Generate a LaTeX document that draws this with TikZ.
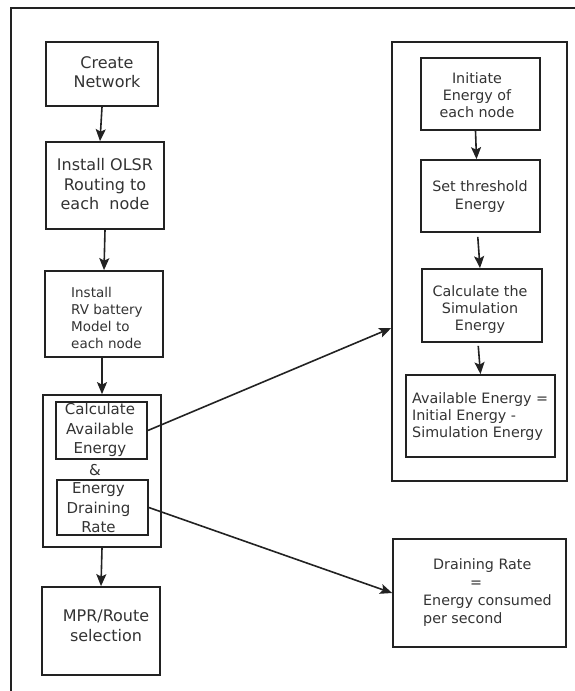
\documentclass[tikz,border=0pt]{standalone}
\usepackage{fontspec}
\setmainfont{DejaVu Sans}
\usetikzlibrary{arrows.meta,calc}
\definecolor{ink}{HTML}{222222}
\definecolor{txtc}{HTML}{333333}
\begin{document}
\begin{tikzpicture}[x=1bp,y=-1bp,
  box/.style={draw=ink, line width=1.7bp, inner sep=0},
  sz/.style 2 args={minimum width=#1bp, minimum height=#2bp},
  txt/.style={inner sep=0, align=center, text=txtc},
  fbig/.style={font=\fontsize{16bp}{19.5bp}\selectfont},
  fmid/.style={font=\fontsize{15bp}{19.5bp}\selectfont},
  fsml/.style={font=\fontsize{13.5bp}{17.2bp}\selectfont},
  frt/.style={font=\fontsize{14.3bp}{17.3bp}\selectfont},
  arr/.style={draw=ink, line width=1.6bp, -{Stealth[length=12bp,width=10bp,inset=2.5bp]}}]
\useasboundingbox (0,0) rectangle (575,691);

% page frame (top and left edges only)
\coordinate (frTR) at (575,8);
\coordinate (frTL) at (11,8);
\coordinate (frBL) at (11,691);
\draw[ink, line width=1.7bp] (frTR) -- (frTL) -- (frBL);

% ---- left column ----
\node[box, sz={112}{64}]  (cn)   at (102,74)    {};
\node[box, sz={118}{87}]  (olsr) at (105,185.5) {};
\node[box, sz={118}{86}]  (rv)   at (104,314)   {};
\node[box, sz={118}{152}] (grp)  at (102,471)   {};
\node[box, sz={91}{57}]   (cae)  at (101.5,430.5) {};
\node[box, sz={91}{55}]   (edr)  at (102.5,507.5) {};
\node[box, sz={118}{88}]  (mpr)  at (101,631)   {};

\node[txt, fbig] (cnT)   at (107,72)    {Create\\Network};
\node[txt, fbig] (olsrT) at (105,184.5) {Install OLSR\\Routing to\\each~ node};
\node[txt, fsml, align=left, anchor=west] (rvT) at (71,318)
  {Install\\RV battery\\Model to\\each node};
\node[txt, fmid] (caeT)  at (100,430)   {Calculate\\Available\\Energy};
\node[txt, fmid] (ampT)  at (95,470)    {\&};
\node[txt, fmid] (edrT)  at (98.5,508)  {Energy\\Draining\\Rate};
\node[txt, fbig] (mprT)  at (106,626)   {MPR/Route\\selection};

% ---- right column ----
\node[box, sz={175}{439}] (ro) at (479.5,261.5) {};
\node[box, sz={119}{72}]  (ie) at (480.5,94)    {};
\node[box, sz={119}{72}]  (st) at (480.5,196)   {};
\node[box, sz={120}{73}]  (cs) at (482,305.5)   {};
\node[box, sz={149}{82}]  (ae) at (480.5,416)   {};
\node[box, sz={173}{108}] (dr) at (479.5,593)   {};

\node[txt, frt] (ieT) at (477,95)    {Initiate\\Energy of\\each node};
\node[txt, frt] (stT) at (480,196.5) {Set threshold\\Energy};
\node[txt, frt] (csT) at (480,309.5) {Calculate the\\Simulation\\Energy};
\node[txt, frt, align=left, anchor=west] (aeT) at (412,416.5)
  {Available Energy =\\Initial Energy -\\Simulation Energy};
\node[txt, font=\fontsize{14.3bp}{18bp}\selectfont, align=left, anchor=west] (drT) at (423,593)
  {\hspace*{10bp}Draining Rate\\\hspace*{47bp}=\\Energy consumed\\per second};

% ---- connectors ----
\draw[arr] (cn.south) -- ([xshift=-5bp]olsr.north);
\draw[arr] (olsr.south) -- (rv.north);
\draw[arr] ([xshift=-2bp]rv.south) -- (grp.north);
\draw[arr] (grp.south) -- (mpr.north);

\draw[arr] ([xshift=-5bp]ie.south) -- ([xshift=-4bp]st.north);
\draw[arr, shorten <=4bp] ([xshift=-3bp]st.south) -- ([xshift=-2bp]cs.north);
\draw[arr, shorten <=3bp] ([xshift=-4bp]cs.south) -- (ae.north);

\draw[arr] (cae.east) -- ($(ro.north west)!0.651!(ro.south west)$);
\draw[arr] (edr.east) -- (dr.west);
\end{tikzpicture}
\end{document}
